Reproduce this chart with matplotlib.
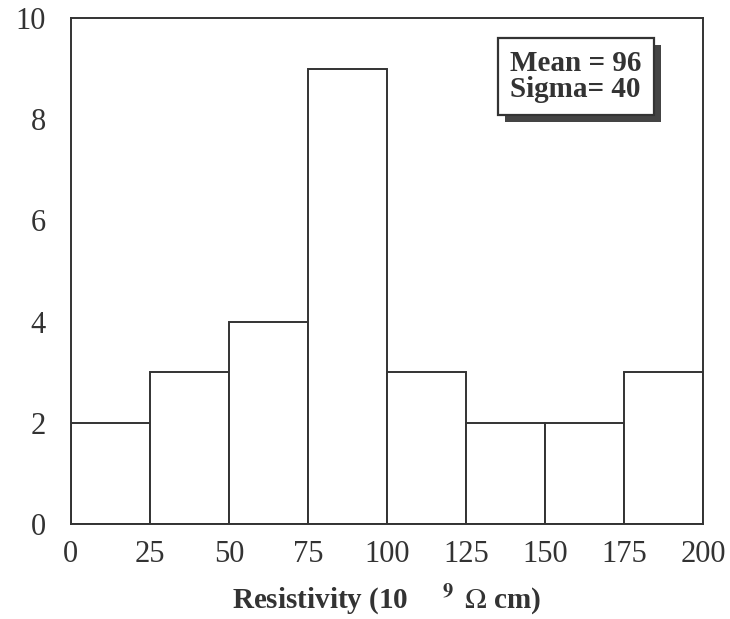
import matplotlib.pyplot as plt
import matplotlib.patheffects as pe

# histogram of resistivity values
bin_edges = [0, 25, 50, 75, 100, 125, 150, 175, 200]
counts = [2, 3, 4, 9, 3, 2, 2, 3]
x_ticks = [0, 25, 50, 75, 100, 125, 150, 175, 200]
y_ticks = [0, 2, 4, 6, 8, 10]
stats_text = "Mean = 96\nSigma= 40"

plt.rcParams['font.family'] = ['Liberation Serif', 'DejaVu Serif']
plt.rcParams['mathtext.fontset'] = 'stix'
ink = '#333333'

fig = plt.figure(figsize=(7.3, 6.19), dpi=100)
ax = fig.add_axes([0.097, 0.153, 0.866, 0.818])

widths = [b - a for a, b in zip(bin_edges[:-1], bin_edges[1:])]
ax.bar(bin_edges[:-1], counts, width=widths, align='edge',
       facecolor='white', edgecolor=ink, linewidth=1.4)

ax.set_xlim(0, 200)
ax.set_ylim(0, 10)
ax.set_xticks(x_ticks)
ax.set_yticks(y_ticks)
ax.tick_params(length=0, labelsize=22, colors=ink)
ax.tick_params(axis='y', pad=18)
ax.tick_params(axis='x', pad=11)
for s in ax.spines.values():
    s.set_color(ink)
    s.set_linewidth(1.4)

ax.set_xlabel("Resistivity (10$^{\\ \\ \\ \\ \\ \\ \\ \\mathbf{9}}$ $\\,\\Omega$ cm)",
              fontsize=21, fontweight='bold', color=ink, labelpad=10)

ax.text(0.799, 0.884, stats_text, transform=ax.transAxes, ha='center',
        va='center', multialignment='left', fontsize=21, fontweight='bold',
        color=ink, linespacing=0.95,
        bbox=dict(boxstyle='square,pad=0.42', facecolor='white',
                  edgecolor=ink, linewidth=1.6,
                  path_effects=[pe.SimplePatchShadow(offset=(5, -5),
                                                     shadow_rgbFace='#444444',
                                                     alpha=1.0),
                                pe.Normal()]))

plt.savefig("out.png", dpi=100)
